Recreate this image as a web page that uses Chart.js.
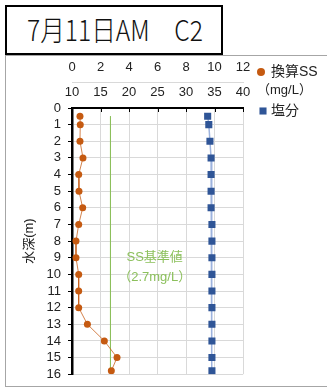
<!DOCTYPE html>
<html>
<head>
<meta charset="utf-8">
<script src="https://cdn.jsdelivr.net/npm/chart.js@4/dist/chart.umd.min.js"></script>
<style>
  body { margin: 0; width: 327px; height: 389px; overflow: hidden; background: #fff; }
  #frame { position: absolute; left: 5px; top: 55px; width: 340px; height: 330px; border: 1px solid #a6a6a6; }
  #title { position: absolute; left: 5px; top: 5px; width: 214px; height: 46px; border: 2px solid #000; background: #fff; overflow: hidden; }
  #title span { position: absolute; left: 20px; top: 4px; font-family: 'Noto Sans CJK JP', sans-serif; font-size: 28px; font-weight: 300; line-height: 36px; white-space: pre; transform-origin: 0 0; color: #111; }
  #chart { position: absolute; left: 0; top: 0; }
</style>
</head>
<body>
<div id="frame"></div>
<canvas id="chart" width="327" height="389"></canvas>
<div id="title"><span>7月11日AM　C2</span></div>
<script>
// profondita (m) e valori
var depths = [0.5, 1, 2, 3, 4, 5, 6, 7, 8, 9, 10, 11, 12, 13, 14, 15, 15.8];
var ssValues = [0.56, 0.58, 0.56, 0.77, 0.47, 0.49, 0.75, 0.47, 0.28, 0.28, 0.47, 0.47, 0.47, 1.08, 2.27, 3.16, 2.76];
var saltValues = [33.8, 34.0, 34.2, 34.4, 34.4, 34.4, 34.4, 34.55, 34.55, 34.55, 34.55, 34.55, 34.55, 34.55, 34.55, 34.55, 34.55];

// linea del valore standard SS
var ssStandard = 2.7;
var standardDepths = [0.5, 15.8];
var standardText = ['SS基準値', '（2.7mg/L）'];

var ssTicks = [0, 2, 4, 6, 8, 10, 12];
var saltTicks = [10, 15, 20, 25, 30, 35, 40];
var depthTicks = [0, 1, 2, 3, 4, 5, 6, 7, 8, 9, 10, 11, 12, 13, 14, 15, 16];

var fontName = "'Liberation Sans', 'Noto Sans CJK JP', sans-serif";
var green = '#8cc05c';

// adatto la larghezza del titolo
var titleSpan = document.querySelector('#title span');
var w = titleSpan.getBoundingClientRect().width;
titleSpan.style.transform = 'scaleX(' + (176 / w) + ')';

function toPoints(xs, ys) {
  return xs.map(function (v, i) { return { x: v, y: ys[i] }; });
}

function fixedTicks(list) {
  return function (s) { s.ticks = list.map(function (v) { return { value: v }; }); };
}

// legenda e testo disegnati a mano
var extraPlugin = {
  id: 'extra',
  afterDraw: function (chart) {
    var ctx = chart.ctx;
    var xS = chart.scales.x;
    var xSalt = chart.scales.x2;
    var yS = chart.scales.y;

    // piccole tacche interne sull'asse del sale
    ctx.save();
    ctx.strokeStyle = '#000';
    ctx.lineWidth = 1;
    saltTicks.forEach(function (t) {
      var px = Math.round(xSalt.getPixelForValue(t)) + 0.5;
      ctx.beginPath();
      ctx.moveTo(px, yS.top);
      ctx.lineTo(px, yS.top + 4);
      ctx.stroke();
    });

    // testo del valore standard
    ctx.fillStyle = green;
    ctx.font = '13px ' + fontName;
    ctx.textAlign = 'center';
    ctx.textBaseline = 'middle';
    var tx = xS.getPixelForValue(5.8);
    ctx.fillText(standardText[0], tx, yS.getPixelForValue(9));
    ctx.fillText(standardText[1], tx, yS.getPixelForValue(10.2));

    // legenda
    ctx.textAlign = 'left';
    var lx = chart.chartArea.right + 18;
    var ly = 72;
    chart.data.datasets.forEach(function (ds) {
      if (!ds.legendLines) return;
      var isRect = ds.pointStyle === 'rect';
      ctx.fillStyle = ds.pointBackgroundColor;
      ctx.strokeStyle = ds.pointBackgroundColor;
      Chart.helpers.drawPoint(ctx, {
        pointStyle: ds.pointStyle,
        radius: isRect ? 5 : 4,
        borderWidth: 0
      }, lx + (isRect ? 2 : 0), ly);
      ctx.fillStyle = '#222';
      ctx.font = '14px ' + fontName;
      ctx.fillText(ds.legendLines[0], lx + 10, ly);
      if (ds.legendLines[1]) {
        ctx.font = '13px ' + fontName;
        ctx.fillText(ds.legendLines[1], lx - 4, ly + 18);
      }
      ly += 39;
    });
    ctx.restore();
  }
};

var chart = new Chart(document.getElementById('chart'), {
  type: 'scatter',
  data: {
    datasets: [{
      label: '換算SS',
      legendLines: ['換算SS', '（mg/L）'],
      data: toPoints(ssValues, depths),
      xAxisID: 'x',
      showLine: true,
      borderColor: 'rgba(197,90,17,0.75)',
      borderWidth: 1,
      pointStyle: 'circle',
      pointRadius: 3.5,
      pointBackgroundColor: '#c55a11',
      pointBorderColor: '#c55a11',
      pointBorderWidth: 0
    }, {
      label: '塩分',
      legendLines: ['塩分'],
      data: toPoints(saltValues, depths),
      xAxisID: 'x2',
      showLine: true,
      borderColor: '#9db3de',
      borderWidth: 1.5,
      pointStyle: 'rect',
      pointRadius: 5,
      pointBackgroundColor: '#2f5597',
      pointBorderColor: '#2f5597',
      pointBorderWidth: 0
    }, {
      label: 'SS基準値',
      data: toPoints([ssStandard, ssStandard], standardDepths),
      xAxisID: 'x',
      showLine: true,
      borderColor: green,
      borderWidth: 1,
      pointRadius: 0
    }]
  },
  options: {
    responsive: false,
    animation: false,
    layout: { padding: { left: 22, right: 84, top: 55, bottom: 13 } },
    plugins: { legend: { display: false }, tooltip: { enabled: false } },
    scales: {
      x: {
        type: 'linear',
        position: 'top',
        weight: 1,
        min: 0,
        max: 12,
        afterBuildTicks: fixedTicks(ssTicks),
        ticks: { color: '#222', font: { size: 13, family: fontName }, padding: 7, maxRotation: 0, autoSkip: false },
        grid: { color: '#d9d9d9', drawTicks: false },
        border: { color: '#d9d9d9', width: 1 },
        afterFit: function (s) { s.height = 27; }
      },
      x2: {
        type: 'linear',
        position: 'top',
        weight: 0,
        min: 10,
        max: 40,
        afterBuildTicks: fixedTicks(saltTicks),
        ticks: { color: '#222', font: { size: 13, family: fontName }, padding: 8, maxRotation: 0, autoSkip: false },
        grid: { drawOnChartArea: false, drawTicks: false },
        border: { color: '#000', width: 2 },
        afterFit: function (s) { s.height = 26; }
      },
      y: {
        type: 'linear',
        position: 'left',
        reverse: true,
        min: 0,
        max: 16,
        afterBuildTicks: fixedTicks(depthTicks),
        ticks: { color: '#222', font: { size: 13, family: fontName }, padding: 7, autoSkip: false },
        grid: { color: '#d9d9d9', tickColor: '#000', tickLength: 4 },
        border: { color: '#000', width: 2.5 },
        title: { display: true, text: '水深(m)', color: '#222', font: { size: 13, family: fontName }, padding: 0 },
        afterFit: function (s) { s.width = 50; }
      }
    }
  },
  plugins: [extraPlugin]
});
</script>
</body>
</html>
